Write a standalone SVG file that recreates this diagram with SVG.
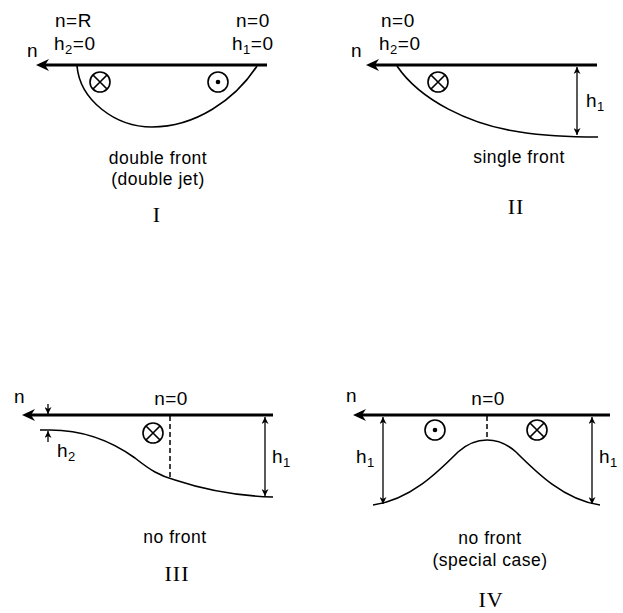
<svg xmlns="http://www.w3.org/2000/svg" width="623" height="613" viewBox="0 0 623 613">
<defs>
<style>
.ax{stroke:#000;stroke-width:3;fill:none}
.cv{stroke:#000;stroke-width:1.6;fill:none}
.dim{stroke:#000;stroke-width:1.3;fill:none}
.dash{stroke:#000;stroke-width:1.5;stroke-dasharray:5,3;fill:none}
.sym{stroke:#000;stroke-width:1.6;fill:none}
.lb{font-family:"Liberation Sans",Arial,sans-serif;font-size:19px;letter-spacing:0.5px;fill:#000}
.mid{text-anchor:middle}
.sub{font-size:13px}
.cap{font-family:"Liberation Sans",Arial,sans-serif;font-size:17.5px;letter-spacing:0.5px;fill:#000;text-anchor:middle}
.rn{font-family:"Liberation Serif","Times New Roman",serif;font-size:22px;letter-spacing:1px;fill:#000;text-anchor:middle}
</style>
<marker id="ah" viewBox="0 0 10 10" refX="10" refY="5" markerWidth="7" markerHeight="7" markerUnits="userSpaceOnUse" orient="auto-start-reverse">
<path d="M0,0 L10,5 L0,10 L3,5 Z" fill="#000"/>
</marker>
<path id="axhead" d="M0,0 L13,-6 L9,0 L13,6 Z" fill="#000"/>
<g id="cross"><circle r="10" class="sym"/><path d="M-7,-7 L7,7 M-7,7 L7,-7" class="sym"/></g>
<g id="dot"><circle r="10" class="sym"/><circle r="2.3" fill="#000"/></g>
</defs>
<rect width="623" height="613" fill="#fff"/>

<g id="connectors">
<!-- panel I -->
<path class="ax" d="M267,65 L44,65"/>
<use href="#axhead" x="36" y="65"/>
<path class="cv" d="M77,66 C80,100 115,127 152,127 C195,127 235,100 257,66"/>
<!-- panel II -->
<path class="ax" d="M597,65 L374,65"/>
<use href="#axhead" x="366" y="65"/>
<path class="cv" d="M397,66 C420,100 470,125 520,132 C545,136 565,137 598,137"/>
<path class="dim" d="M577,67 L577,135" marker-start="url(#ah)" marker-end="url(#ah)"/>
<!-- panel III -->
<path class="ax" d="M273,415 L30,415"/>
<use href="#axhead" x="22" y="415"/>
<path class="dim" d="M48,404 L48,414" marker-end="url(#ah)"/>
<path class="dim" d="M48,442 L48,431" marker-end="url(#ah)"/>
<path class="cv" d="M40,430 L50,430 C80,430 110,440 135,458 C150,470 160,476 175,480 C205,490 240,496 273,497"/>
<path class="dash" d="M170,416 L170,478"/>
<path class="dim" d="M265,417 L265,496" marker-start="url(#ah)" marker-end="url(#ah)"/>
<!-- panel IV -->
<path class="ax" d="M610,415 L361,415"/>
<use href="#axhead" x="353" y="415"/>
<path class="cv" d="M373,505 C410,500 438,472 458,452 C468,443 477,440 487,440 C497,440 506,443 516,452 C536,472 564,500 600,505"/>
<path class="dash" d="M487,416 L487,440"/>
<path class="dim" d="M383,417 L383,504" marker-start="url(#ah)" marker-end="url(#ah)"/>
<path class="dim" d="M592,417 L592,504" marker-start="url(#ah)" marker-end="url(#ah)"/>
</g>

<g id="panel1">
<text class="lb" x="27" y="57">n</text>
<text class="lb" x="55" y="27">n=R</text>
<text class="lb" x="54" y="50">h<tspan class="sub" dy="4">2</tspan><tspan dy="-4">=0</tspan></text>
<text class="lb" x="236" y="27">n=0</text>
<text class="lb" x="232" y="50">h<tspan class="sub" dy="4">1</tspan><tspan dy="-4">=0</tspan></text>
<use href="#cross" x="100" y="82"/>
<use href="#dot" x="218" y="82"/>
<text class="cap" x="158" y="164">double front</text>
<text class="cap" x="158" y="185">(double jet)</text>
<text class="rn" x="157" y="222">I</text>
</g>

<g id="panel2">
<text class="lb" x="351" y="57">n</text>
<text class="lb" x="381" y="27">n=0</text>
<text class="lb" x="379" y="50">h<tspan class="sub" dy="4">2</tspan><tspan dy="-4">=0</tspan></text>
<use href="#cross" x="438" y="82"/>
<text class="lb" x="586" y="107">h<tspan class="sub" dy="4">1</tspan></text>
<text class="cap" x="519" y="163">single front</text>
<text class="rn" x="516" y="214">II</text>
</g>

<g id="panel3">
<text class="lb" x="14" y="403">n</text>
<text class="lb mid" x="171" y="405">n=0</text>
<use href="#cross" x="153" y="433"/>
<text class="lb" x="57" y="457">h<tspan class="sub" dy="4">2</tspan></text>
<text class="lb" x="272" y="463">h<tspan class="sub" dy="4">1</tspan></text>
<text class="cap" x="175" y="543">no front</text>
<text class="rn" x="177" y="581">III</text>
</g>

<g id="panel4">
<text class="lb" x="346" y="402">n</text>
<text class="lb mid" x="488" y="405">n=0</text>
<use href="#dot" x="435" y="430"/>
<use href="#cross" x="537" y="430"/>
<text class="lb" x="356" y="463">h<tspan class="sub" dy="4">1</tspan></text>
<text class="lb" x="599" y="463">h<tspan class="sub" dy="4">1</tspan></text>
<text class="cap" x="490" y="544">no front</text>
<text class="cap" x="490" y="566">(special case)</text>
<text class="rn" x="491" y="607">IV</text>
</g>
</svg>
